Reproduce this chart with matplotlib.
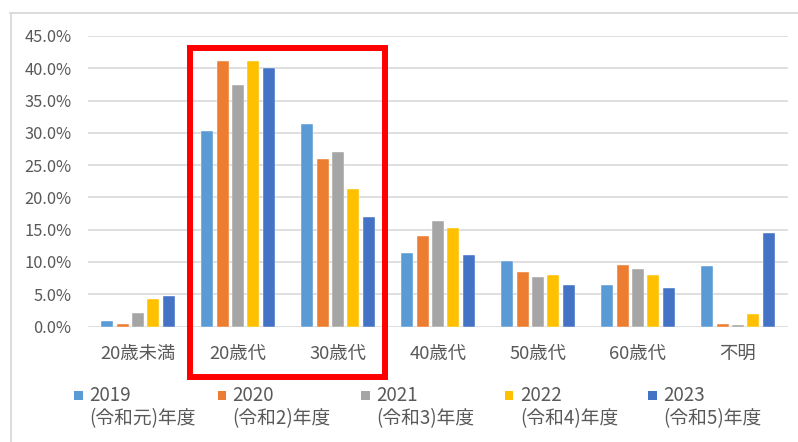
import numpy as np
import matplotlib.pyplot as plt
from matplotlib.patches import Rectangle
from matplotlib.lines import Line2D
from matplotlib.ticker import FuncFormatter

plt.rcParams['font.family'] = ['Noto Sans CJK JP', 'DejaVu Sans']

# 年代区分
categories = ['20歳未満', '20歳代', '30歳代', '40歳代', '50歳代', '60歳代', '不明']
years = ['2019', '2020', '2021', '2022', '2023']
eras = ['令和元', '令和2', '令和3', '令和4', '令和5']

# 割合 (%)
v2019 = [0.8, 30.3, 31.3, 11.4, 10.2, 6.4, 9.4]
v2020 = [0.4, 41.2, 26.0, 14.0, 8.4, 9.6, 0.4]
v2021 = [2.1, 37.4, 27.1, 16.4, 7.7, 8.9, 0.2]
v2022 = [4.3, 41.2, 21.3, 15.3, 8.0, 8.0, 1.9]
v2023 = [4.8, 40.0, 17.0, 11.0, 6.5, 5.9, 14.5]
series = [v2019, v2020, v2021, v2022, v2023]

colors = ['#5B9BD5', '#ED7D31', '#A5A5A5', '#FFC000', '#4472C4']
text_color = '#595959'
W, H = 798, 442

fig = plt.figure(figsize=(W / 100, H / 100), dpi=100)
ax = fig.add_axes([88 / W, 1 - 326.5 / H, 700 / W, 290.5 / H])

x = np.arange(len(categories))
step = 0.153
for i, vals in enumerate(series):
    ax.bar(x + (i - 2) * step, np.array(vals) / 100, width=0.12,
           color=colors[i], edgecolor='white', linewidth=0.3, zorder=3)

ax.set_xlim(-0.5, len(categories) - 0.5)
ax.set_ylim(0, 0.45)
ax.set_yticks(np.arange(0, 0.451, 0.05))
ax.yaxis.set_major_formatter(FuncFormatter(lambda v, p: f'{v * 100:.1f}%'))
ax.grid(axis='y', color='#d9d9d9', linewidth=1.2, zorder=0)
ax.set_xticks(x)
ax.set_xticklabels(categories)
ax.tick_params(axis='y', length=0, pad=12, labelsize=11.8, labelcolor=text_color)
ax.tick_params(axis='x', length=0, pad=13, labelsize=13.2, labelcolor=text_color)
for s in ax.spines.values():
    s.set_visible(False)

# 外枠
fig.add_artist(Line2D([10.5 / W, 10.5 / W], [0, 1 - 13 / H], color='#d9d9d9', linewidth=1.3))
fig.add_artist(Line2D([10 / W, 1], [1 - 13 / H, 1 - 13 / H], color='#d9d9d9', linewidth=1.3))

# 赤枠
fig.add_artist(Rectangle((189.7 / W, 1 - 376.7 / H), (385.3 - 189.7) / W, (376.7 - 48) / H,
                         fill=False, edgecolor='#ff0000', linewidth=4.3, zorder=10))

# 凡例
for i in range(len(years)):
    x0 = 74 + 143.6 * i
    fig.add_artist(Rectangle((x0 / W, 1 - 399.5 / H), 8.5 / W, 8.5 / H,
                             color=colors[i], linewidth=0))
    fig.text((x0 + 15) / W, 1 - 395.5 / H, years[i], fontsize=13.5,
             color=text_color, va='center', ha='left')
    fig.text((x0 + 15) / W, 1 - 419 / H, f'({eras[i]})年度', fontsize=13.5,
             color=text_color, va='center', ha='left')

fig.savefig('out.png', dpi=100)
